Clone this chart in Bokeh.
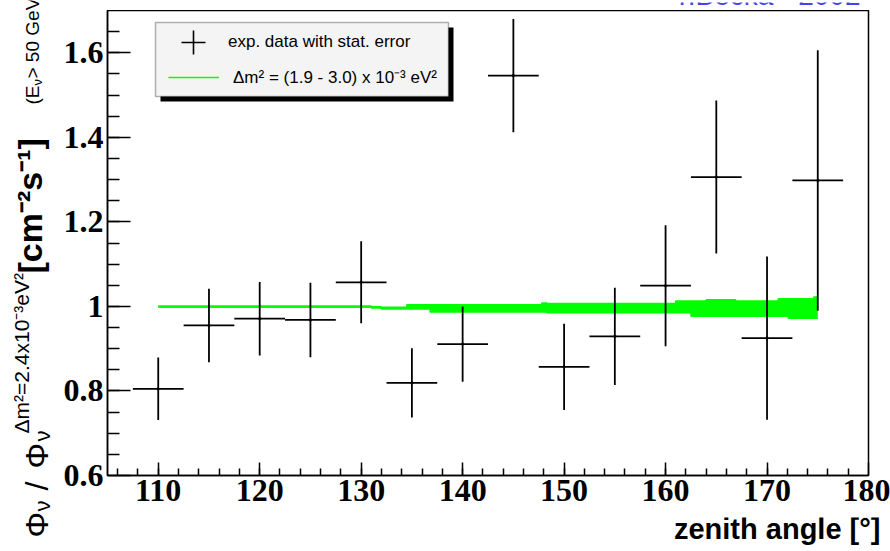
import numpy as np
from bokeh.plotting import figure
from bokeh.layouts import row, column
from bokeh.models import (ColumnDataSource, FixedTicker, Label, BoxAnnotation,
                          Legend, LegendItem, Range1d)
from bokeh.embed import file_html
from bokeh.resources import INLINE

# ---------------- data ----------------
zenith_angle = [110, 115, 120, 125, 130, 135, 140, 145, 150, 155, 160, 165, 170, 175]
flux_ratio = [0.805, 0.955, 0.971, 0.968, 1.057, 0.819, 0.911, 1.546, 0.857, 0.929,
              1.049, 1.306, 0.925, 1.298]
stat_error = [0.074, 0.087, 0.087, 0.088, 0.097, 0.082, 0.089, 0.134, 0.102, 0.115,
              0.143, 0.181, 0.193, 0.308]
bin_half_width = [2.5, 2.5, 2.5, 2.5, 2.5, 2.5, 2.5, 2.5, 2.5, 2.5, 2.5, 2.5, 2.5, 2.5]

# expectation band for dm^2 = (1.9 - 3.0) x 10^-3 eV^2
band_angle = [110, 131, 132, 134.5, 136.8, 147.8, 148.3, 161.0, 162.5, 164.0, 166.9,
              171.1, 172.1, 174.6, 175]
band_low = [0.998, 0.996, 0.994, 0.994, 0.987, 0.987, 0.985, 0.985, 0.977, 0.977,
            0.977, 0.977, 0.972, 0.972, 0.972]
band_high = [1.001, 0.999, 0.998, 1.004, 1.004, 1.008, 1.007, 1.013, 1.013, 1.016,
             1.013, 1.018, 1.018, 1.022, 1.022]

x_tick_values = [110, 120, 130, 140, 150, 160, 170, 180]
y_tick_values = [0.6, 0.8, 1.0, 1.2, 1.4, 1.6]
y_tick_labels = ["0.6", "0.8", "1", "1.2", "1.4", "1.6"]

legend_labels = ["exp. data with stat. error", "\u0394m\u00b2 = (1.9 - 3.0) x 10\u207b\u00b3 eV\u00b2"]

# page geometry (pixels)
LEFT_W = 55          # strip holding the rotated y title
TOP_H = 10           # strip holding the (clipped) author tag
MAIN_BOTTOM = 517    # bottom edge of the main figure
FL, FB = 107, 475    # frame left / bottom of the main plot


def strip(w, h):
    f = figure(width=w, height=h, x_range=Range1d(0, 1), y_range=Range1d(0, 1),
               x_axis_type=None, y_axis_type=None, output_backend="svg",
               toolbar_location=None, min_border=0, outline_line_color=None)
    f.background_fill_color = "white"
    f.border_fill_color = "white"
    return f


def lab(fig, ox, oy, along, base, text, size, bold=False, rotated=True, align="left",
        color="black"):
    """Text placed in page pixels. (ox, oy): page position of the figure frame's bottom-left.
    rotated: 'along' = page y where the text starts, 'base' = page x of the baseline.
    horizontal: 'along' = page x of the anchor, 'base' = page y of the baseline."""
    shift = 0.35 * size  # the label anchor sits ~0.35 em above the baseline
    if rotated:
        px, py, angle = base - shift, along, np.pi / 2
    else:
        px, py, angle = along, base - shift, 0
    fig.add_layout(Label(x=px - ox, y=oy - py, x_units="screen", y_units="screen",
                         text=text, angle=angle, text_align=align,
                         text_baseline="alphabetic", text_font="Liberation Sans",
                         text_font_size=f"{size}px",
                         text_font_style="bold" if bold else "normal",
                         text_color=color))


# ---------------- main figure ----------------
p = figure(width=890 - LEFT_W, height=MAIN_BOTTOM - TOP_H,
           x_range=Range1d(105, 180), y_range=Range1d(0.6, 1.7),
           output_backend="svg", toolbar_location=None,
           min_border_left=FL - LEFT_W, min_border_right=22, min_border_top=0,
           min_border_bottom=MAIN_BOTTOM - FB)
p.xgrid.visible = False
p.ygrid.visible = False
p.background_fill_color = "white"
p.border_fill_color = "white"
p.outline_line_color = "black"
p.outline_line_width = 1.5

p.xaxis.ticker = FixedTicker(ticks=x_tick_values, minor_ticks=list(np.arange(106, 180, 2)))
p.yaxis.ticker = FixedTicker(ticks=y_tick_values,
                             minor_ticks=[round(v, 2) for v in np.arange(0.65, 1.70, 0.05)])
p.yaxis.major_label_overrides = dict(zip(y_tick_values, y_tick_labels))

for ax in (p.xaxis[0], p.yaxis[0]):
    ax.major_tick_out = 0
    ax.minor_tick_out = 0
    ax.axis_line_color = "black"
    ax.axis_line_width = 1.5
    ax.major_tick_line_width = 1.5
    ax.minor_tick_line_width = 1.5
    ax.major_tick_line_color = "black"
    ax.minor_tick_line_color = "black"
    ax.major_label_text_font = "Liberation Serif"
    ax.major_label_text_font_style = "bold"
    ax.major_label_text_font_size = "32px"
    ax.major_label_text_color = "black"
p.yaxis.major_tick_in = 23
p.yaxis.minor_tick_in = 12
p.xaxis.major_tick_in = 13
p.xaxis.minor_tick_in = 7
p.yaxis.major_label_standoff = 4
p.xaxis.major_label_standoff = 4

# glyphs
p.varea_step(x=band_angle, y1=band_low, y2=band_high, step_mode="after",
             fill_color="#00ff00", fill_alpha=1.0)
hi_line = p.step(x=band_angle, y=band_high, mode="after", line_color="#00ff00", line_width=1.5)
lo_line = p.step(x=band_angle, y=band_low, mode="after", line_color="#00ff00", line_width=1.5)

src = ColumnDataSource(dict(
    x=zenith_angle, y=flux_ratio,
    x_lo=[a - w for a, w in zip(zenith_angle, bin_half_width)],
    x_hi=[a + w for a, w in zip(zenith_angle, bin_half_width)],
    y_lo=[f - e for f, e in zip(flux_ratio, stat_error)],
    y_hi=[f + e for f, e in zip(flux_ratio, stat_error)],
))
p.segment(x0="x_lo", y0="y", x1="x_hi", y1="y", source=src, line_color="black", line_width=1.8)
p.segment(x0="x", y0="y_lo", x1="x", y1="y_hi", source=src, line_color="black", line_width=1.8)
pts = p.scatter(x="x", y="y", source=src, marker="cross", size=3, line_color="black",
                line_width=1.6)

# legend (box + shadow + two legends)
shadow = BoxAnnotation(left=160 - FL, right=453 - FL, top=FB - 27, bottom=FB - 101,
                       left_units="screen", right_units="screen", top_units="screen",
                       bottom_units="screen", fill_color="black", fill_alpha=1.0,
                       line_alpha=0)
box = BoxAnnotation(left=155 - FL, right=448 - FL, top=FB - 22, bottom=FB - 96,
                    left_units="screen", right_units="screen", top_units="screen",
                    bottom_units="screen", fill_color="#f4f4f4", fill_alpha=1.0,
                    line_color="black", line_width=1.5)
p.add_layout(shadow)
p.add_layout(box)

leg1 = Legend(items=[LegendItem(label=legend_labels[0], renderers=[pts])],
              location=(163 - FL, FB - 72), glyph_width=60, glyph_height=60,
              label_standoff=5, padding=0, margin=0, spacing=0,
              background_fill_alpha=0, border_line_alpha=0,
              label_text_font="Liberation Sans", label_text_font_size="17px",
              label_text_color="black")
leg2 = Legend(items=[LegendItem(label=legend_labels[1], renderers=[hi_line])],
              location=(168 - FL, FB - 88), glyph_width=51, glyph_height=20,
              label_standoff=14, padding=0, margin=0, spacing=0,
              background_fill_alpha=0, border_line_alpha=0,
              label_text_font="Liberation Sans", label_text_font_size="17px",
              label_text_color="black")
p.add_layout(leg1)
p.add_layout(leg2)

# ---------------- left strip: rotated y title ----------------
left = strip(LEFT_W, 551)
LO = (0, 551)
lab(left, *LO, 537, 48, "\u03a6", 32)
lab(left, *LO, 511, 50, "\u03bd", 22)
lab(left, *LO, 490, 48, "/", 32)
lab(left, *LO, 468, 48, "\u03a6", 32)
lab(left, *LO, 441, 50, "\u03bd", 22)
lab(left, *LO, 433, 28, "\u0394m\u00b2=2.4x10\u207b\u00b3eV\u00b2", 21)
lab(left, *LO, 273, 41, "[cm\u207b\u00b2s\u207b\u00b9]", 34, bold=True)
lab(left, *LO, 104, 39, "(E", 19)
lab(left, *LO, 85, 42, "\u03bd", 13)
lab(left, *LO, 78, 39, " > 50 GeV)", 19)

# ---------------- top strip: author tag (cut by the page edge) ----------------
top = strip(890 - LEFT_W, TOP_H)
lab(top, LEFT_W, TOP_H, 860, 3, "Y.Becka - 2002", 28, rotated=False, align="right",
    color="#4444ee")

# ---------------- bottom strip: x title ----------------
bottom = strip(890 - LEFT_W, 551 - MAIN_BOTTOM)
lab(bottom, LEFT_W, 551, 880, 539, "zenith angle [\u00b0]", 29, bold=True, rotated=False,
    align="right")

layout = row(left, column(row(top, spacing=0), p, row(bottom, spacing=0), spacing=0),
             spacing=0)

open("out.html", "w").write(file_html(layout, INLINE))
